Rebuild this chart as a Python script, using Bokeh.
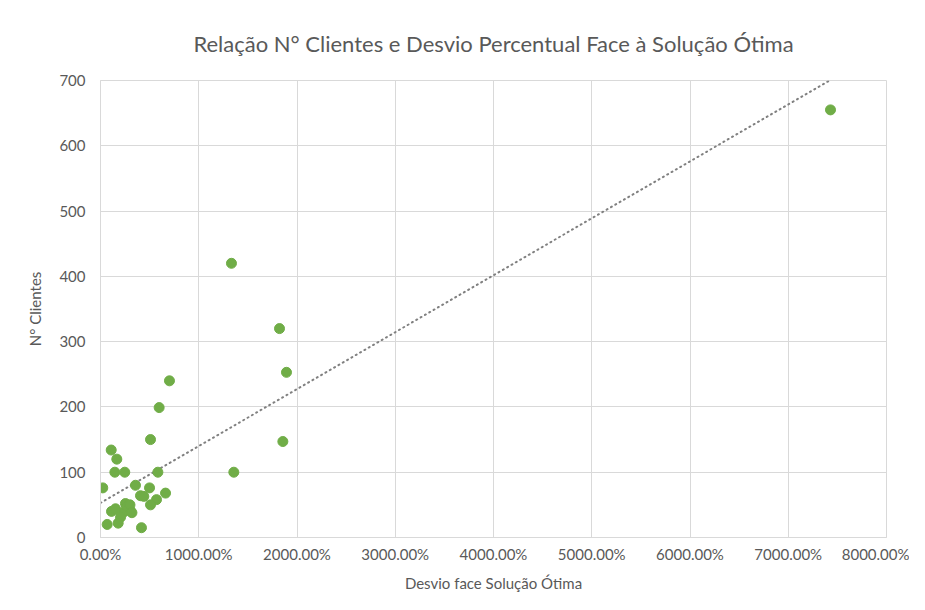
import numpy as np
from bokeh.plotting import figure
from bokeh.models import PrintfTickFormatter, FixedTicker, Range1d
from bokeh.embed import file_html
from bokeh.resources import INLINE

# Desvio face Solução Ótima (%) and Nº Clientes
desvio = [7430, 1333, 1822, 1893, 1856, 1357, 702, 597, 509, 109,
          166, 146, 247, 584, 23, 356, 499, 407, 441, 662,
          570, 509, 254, 288, 305, 237, 270, 300, 112, 153,
          204, 180, 68, 417, 320]
clientes = [655, 420, 320, 253, 147, 100, 240, 199, 150, 134,
            120, 100, 100, 100, 76, 80, 76, 64, 63, 68,
            58, 50, 52, 46, 41, 39, 48, 50, 40, 44,
            31, 22, 20, 15, 38]

x_ticks = [0, 1000, 2000, 3000, 4000, 5000, 6000, 7000, 8000]
y_ticks = [0, 100, 200, 300, 400, 500, 600, 700]

FONT = "Lato"
TXT = "#595959"
GRID = "#d9d9d9"

p = figure(width=909, height=594, output_backend="svg", toolbar_location=None,
           x_range=Range1d(0, 8000), y_range=Range1d(0, 700),
           min_border_left=100, min_border_right=23, min_border_top=80, min_border_bottom=57,
           title="Relação N° Clientes e Desvio Percentual Face à Solução Ótima")

p.title.align = "center"
p.title.text_font = FONT
p.title.text_font_size = "22px"
p.title.text_font_style = "normal"
p.title.text_color = TXT
p.title.standoff = 48

p.outline_line_color = GRID
p.outline_line_width = 1

for ax in (p.xaxis[0], p.yaxis[0]):
    ax.axis_line_color = GRID
    ax.major_tick_line_color = None
    ax.minor_tick_line_color = None
    ax.major_tick_out = 0
    ax.major_tick_in = 0
    ax.minor_tick_out = 0
    ax.major_label_text_font = FONT
    ax.major_label_text_font_size = "15px"
    ax.major_label_text_color = TXT
    ax.axis_label_text_font = FONT
    ax.axis_label_text_font_size = "15px"
    ax.axis_label_text_color = TXT
    ax.axis_label_text_font_style = "normal"

p.xaxis.ticker = FixedTicker(ticks=x_ticks)
p.yaxis.ticker = FixedTicker(ticks=y_ticks)
p.xaxis.formatter = PrintfTickFormatter(format="%.2f%%")
p.xaxis.axis_label = "Desvio face Solução Ótima"
p.yaxis.axis_label = "N° Clientes"
p.xaxis.major_label_standoff = 7
p.xaxis.axis_label_standoff = 8
p.yaxis.major_label_standoff = 15
p.yaxis.axis_label_standoff = 12

p.xgrid.grid_line_color = GRID
p.ygrid.grid_line_color = GRID

# linear trend line
m, b = np.polyfit(desvio, clientes, 1)
tx = [0, max(desvio)]
ty = [b + m * v for v in tx]
p.line(tx, ty, line_color="#808080", line_width=2, line_dash="1 4", line_cap="round")

p.scatter(desvio, clientes, size=10, fill_color="#70AD47", line_color="#70AD47")

open("out.html", "w").write(file_html(p, INLINE))
